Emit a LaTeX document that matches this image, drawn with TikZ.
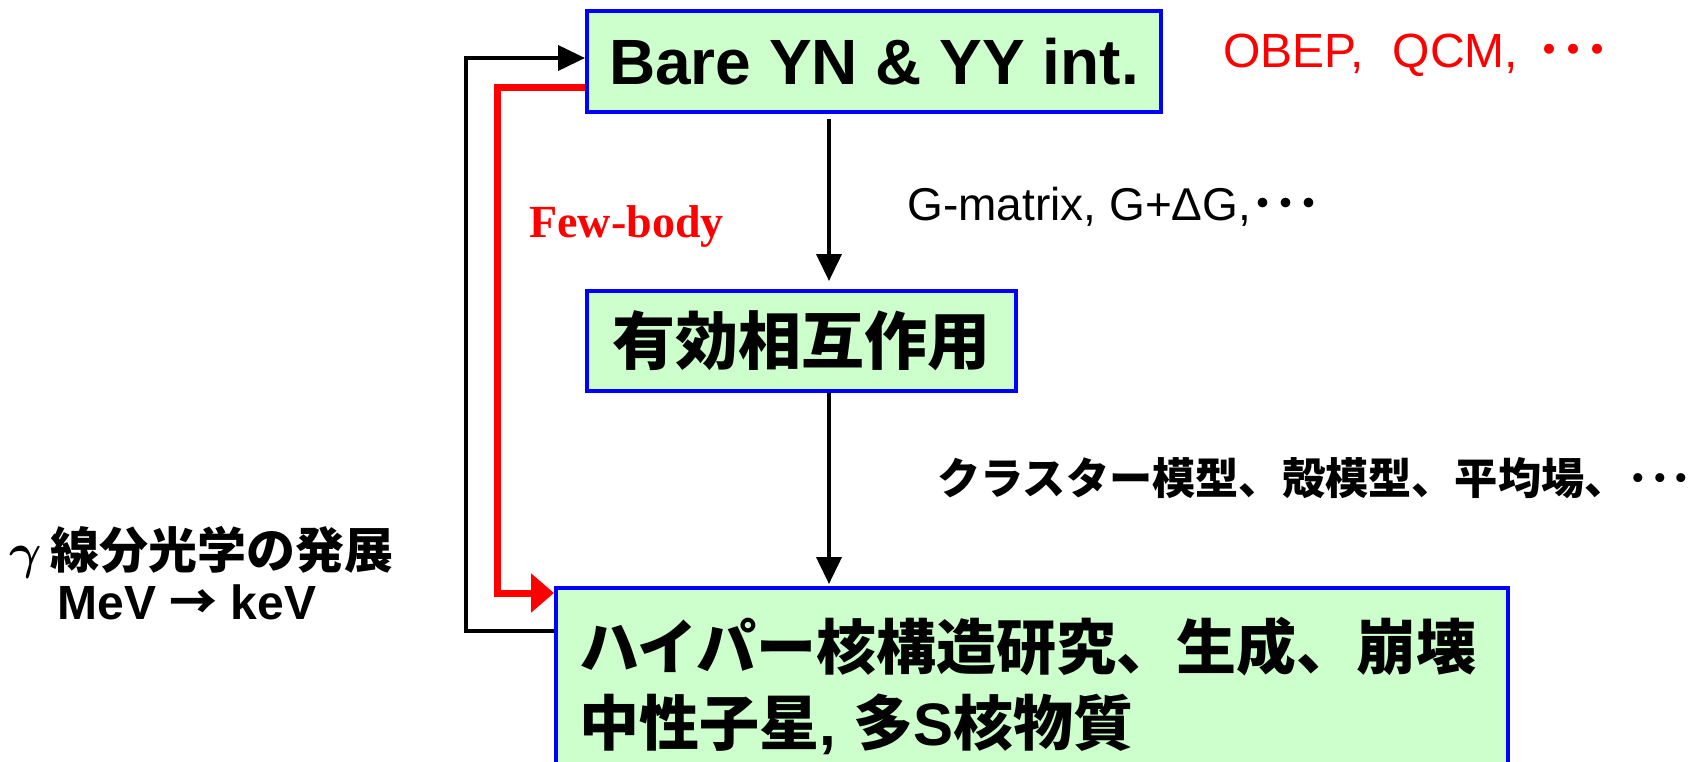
\documentclass[tikz,border=0pt]{standalone}
\usepackage{amsmath}
\usepackage{fontspec}
\setmainfont{Liberation Sans}
\newfontfamily\cjk{Noto Sans CJK JP}
\newfontfamily\serifb{Liberation Serif}
\usetikzlibrary{arrows.meta}
\definecolor{boxgreen}{HTML}{CCFFCC}
\definecolor{boxblue}{HTML}{0000FF}
\definecolor{lred}{HTML}{FF0000}
\tikzset{
  x=0.5pt, y=-0.5pt,
  box/.style={draw=boxblue, fill=boxgreen, line width=2pt, rectangle, inner sep=0pt},
  blk/.style={draw=black, line width=2pt, -{Triangle[length=13.5pt,width=12.5pt]}},
  redl/.style={draw=lred, line width=3.5pt, -{Triangle[length=11.5pt,width=19pt]}},
  lbl/.style={inner sep=0pt, anchor=west},
}
\begin{document}
\begin{tikzpicture}
\useasboundingbox (0,0) rectangle (1704,761);
% boxes
\node[box, minimum width=287pt, minimum height=50.5pt] (bare) at (874,61.5)
  {\fontsize{32}{38}\selectfont\bfseries Bare YN \& YY int.};
\node[box, minimum width=214.5pt, minimum height=50pt] (eff) at (801.5,341)
  {\fontsize{31.5}{38}\selectfont\cjk\bfseries 有効相互作用};
\node[box, minimum width=476pt, minimum height=98pt, align=left,
      text width=453pt, font=\fontsize{30}{34}\selectfont\bfseries] (hyp) at (1032,686)
  {{\cjk ハイパー核構造研究、生成、崩壊}\\[4pt]
   {\cjk 中性子星},\hspace{0.3em}{\cjk 多}S{\cjk 核物質}};
% labels
\node[lbl, text=lred] (obep) at (1223,55)
  {\fontsize{24}{28}\selectfont OBEP,\hspace{0.6em}QCM,\hspace{0.4em}{\cjk\bfseries ･･･}};
\node[lbl] (gmat) at (907,207)
  {\fontsize{23}{28}\selectfont G-matrix, G+ΔG,{\cjk\bfseries ･･･}};
\node[lbl, text=lred] (few) at (529,226)
  {\fontsize{23}{28}\selectfont\serifb\bfseries Few-body};
\node[lbl] (clus) at (937,478)
  {\fontsize{21.6}{26}\selectfont\cjk\bfseries クラスター模型、殻模型、平均場、･･･};
\node[lbl] (gam) at (9,552)
  {\fontsize{24.5}{28}\selectfont$\boldsymbol{\gamma}$\,{\cjk\bfseries 線分光学の発展}};
\node[lbl] (mev) at (57,602)
  {\fontsize{24}{28}\selectfont\bfseries MeV {\cjk →} keV};
% helper coordinates
\coordinate (ax) at (829,0);
\coordinate (blt) at (466,58);
\coordinate (blb) at (466,631);
\coordinate (rt) at (497,87);
\coordinate (rb) at (497,593);
% connectors
\draw[blk, shorten <=2.5pt, shorten >=4pt] (bare.south -| ax) -- (eff.north -| ax);
\draw[blk, shorten >=1pt] (eff.south -| ax) -- (hyp.north -| ax);
\draw[blk] (hyp.west |- blb) -- (blb) -- (blt) -- (bare.west |- blt);
\draw[redl] (bare.west |- rt) -- (rt) -- (rb) -- (hyp.west |- rb);
\end{tikzpicture}
\end{document}
